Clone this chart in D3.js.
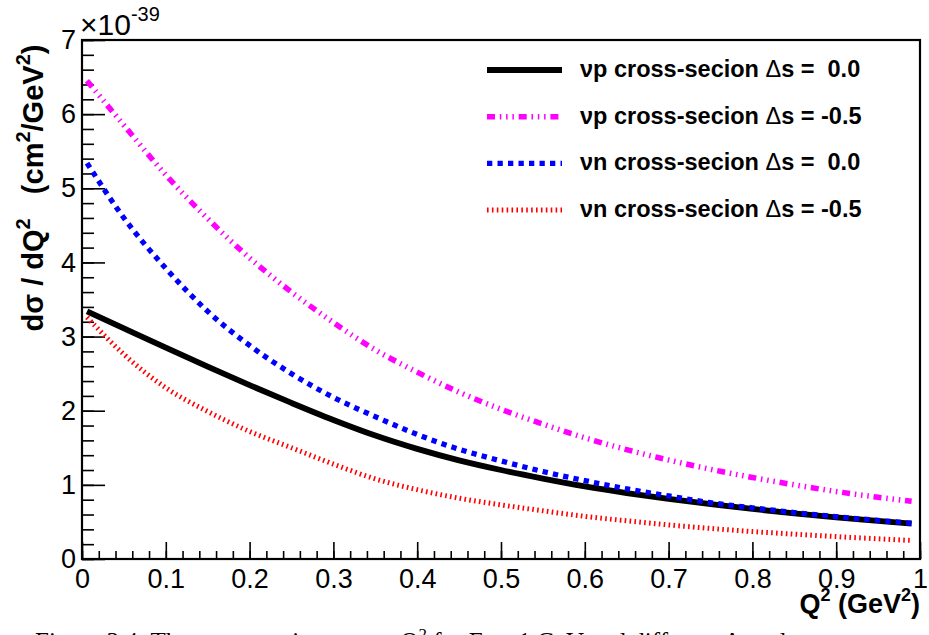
<!DOCTYPE html>
<html>
<head>
<meta charset="utf-8">
<script src="https://cdn.jsdelivr.net/npm/d3@7"></script>
<style>
  html, body { margin: 0; padding: 0; background: #fff; }
  svg { display: block; }
  text { white-space: pre; }
</style>
</head>
<body>
<svg id="chart" width="929" height="635"></svg>
<script>
// Q^2 sampling points (GeV^2)
const q2 = [0.006, 0.05, 0.1, 0.15, 0.2, 0.25, 0.3, 0.35, 0.4, 0.45, 0.5,
            0.55, 0.6, 0.65, 0.7, 0.75, 0.8, 0.85, 0.9, 0.95, 0.99];

// dsigma/dQ^2 in units of 1e-39 cm^2/GeV^2
const nuP_ds0 = [3.34, 3.11, 2.85, 2.595, 2.345, 2.105, 1.875, 1.665, 1.485, 1.33, 1.20,
                 1.085, 0.98, 0.89, 0.81, 0.74, 0.675, 0.615, 0.562, 0.515, 0.478];
const nuP_dsm05 = [6.45, 5.85, 5.18, 4.59, 4.06, 3.60, 3.19, 2.82, 2.52, 2.25, 2.02,
                   1.82, 1.635, 1.475, 1.335, 1.21, 1.10, 1.00, 0.91, 0.833, 0.778];
const nuN_ds0 = [5.34, 4.60, 3.92, 3.34, 2.88, 2.50, 2.18, 1.92, 1.68, 1.48, 1.323,
                 1.18, 1.057, 0.947, 0.85, 0.76, 0.69, 0.627, 0.57, 0.52, 0.482];
const nuN_dsm05 = [3.26, 2.76, 2.31, 1.99, 1.72, 1.50, 1.28, 1.08, 0.935, 0.82, 0.73,
                   0.65, 0.575, 0.515, 0.46, 0.412, 0.37, 0.335, 0.302, 0.272, 0.25];

const seriesNames = ["νp", "νp", "νn", "νn"];
const seriesDs = [" 0.0", "-0.5", " 0.0", "-0.5"];
const seriesColors = ["#000000", "#ff00ff", "#0000ff", "#ff0000"];

const xTickValues = [0, 0.1, 0.2, 0.3, 0.4, 0.5, 0.6, 0.7, 0.8, 0.9, 1];
const yTickValues = [0, 1, 2, 3, 4, 5, 6, 7];

// line styles: width and dash pattern per series
const styles = [
  { w: 5.8, dash: null },
  { w: 5.5, dash: "8,4.8,1.5,4.8,1.5,4.8,1.5,4.8" },
  { w: 5.3, dash: "5.3,5.2" },
  { w: 5,   dash: "1.6,3.3" }
];

const svg = d3.select("#chart");
const padL = 82, padR = 920, padT = 40, padB = 559;

const x = d3.scaleLinear().domain([0, 1]).range([padL, padR]);
const y = d3.scaleLinear().domain([0, 7]).range([padB, padT]);

const tickFont = "'Liberation Sans', Arial, Helvetica, sans-serif";

// minor ticks
svg.append("g")
  .attr("transform", `translate(0,${padB})`)
  .call(d3.axisBottom(x).tickValues(d3.range(0, 1.0001, 0.02)).tickSize(-8).tickFormat(""))
  .call(g => g.select(".domain").remove())
  .call(g => g.selectAll("line").attr("stroke", "#000").attr("stroke-width", 1.6));

svg.append("g")
  .attr("transform", `translate(${padL},0)`)
  .call(d3.axisLeft(y).tickValues(d3.range(0, 7.0001, 0.2)).tickSize(-12).tickFormat(""))
  .call(g => g.select(".domain").remove())
  .call(g => g.selectAll("line").attr("stroke", "#000").attr("stroke-width", 1.6));

// major ticks with labels
svg.append("g")
  .attr("transform", `translate(0,${padB})`)
  .call(d3.axisBottom(x).tickValues(xTickValues).tickSize(-17).tickPadding(10)
        .tickFormat(d => d === 0 || d === 1 ? String(d) : d3.format(".1f")(d)))
  .call(g => g.select(".domain").remove())
  .call(g => g.selectAll("line").attr("stroke", "#000").attr("stroke-width", 1.6))
  .call(g => g.selectAll("text").attr("font-family", tickFont).attr("font-size", 27).attr("fill", "#000"));

svg.append("g")
  .attr("transform", `translate(${padL},0)`)
  .call(d3.axisLeft(y).tickValues(yTickValues).tickSize(-23).tickPadding(6).tickFormat(d3.format("d")))
  .call(g => g.select(".domain").remove())
  .call(g => g.selectAll("line").attr("stroke", "#000").attr("stroke-width", 1.6))
  .call(g => g.selectAll("text").attr("font-family", tickFont).attr("font-size", 27).attr("fill", "#000"));

// curves
const data = [nuP_ds0, nuP_dsm05, nuN_ds0, nuN_dsm05];
const line = d3.line()
  .x((d, i) => x(q2[i]))
  .y(d => y(d))
  .curve(d3.curveMonotoneX);

const plot = svg.append("g");
data.forEach((vals, k) => {
  plot.append("path")
    .datum(vals)
    .attr("d", line)
    .attr("fill", "none")
    .attr("stroke", seriesColors[k])
    .attr("stroke-width", styles[k].w)
    .attr("stroke-dasharray", styles[k].dash)
    .attr("stroke-linecap", "butt")
    .attr("stroke-linejoin", "round");
});

// frame
svg.append("rect")
  .attr("x", padL).attr("y", padT)
  .attr("width", padR - padL).attr("height", padB - padT)
  .attr("fill", "none").attr("stroke", "#000").attr("stroke-width", 2.2);

// exponent label
const expo = svg.append("text")
  .attr("x", 80).attr("y", 35)
  .attr("font-family", tickFont).attr("font-size", 30).attr("fill", "#000");
expo.append("tspan").text("×10");
expo.append("tspan").attr("font-size", 20).attr("dy", -14).text("-39");

// legend
const legY = [70, 116.7, 163.3, 210];
const legend = svg.append("g");
data.forEach((vals, k) => {
  legend.append("line")
    .attr("x1", 487).attr("x2", 562)
    .attr("y1", legY[k]).attr("y2", legY[k])
    .attr("stroke", seriesColors[k])
    .attr("stroke-width", styles[k].w)
    .attr("stroke-dasharray", styles[k].dash);
  const t = legend.append("text")
    .attr("x", 580).attr("y", legY[k] + 7)
    .attr("font-family", tickFont).attr("font-size", 23.5)
    .attr("font-weight", "bold").attr("fill", "#000");
  t.append("tspan").text(seriesNames[k] + " cross-secion ");
  t.append("tspan").attr("font-weight", "normal").text("Δ");
  t.append("tspan").text("s = " + seriesDs[k]);
});

// axis titles
const xt = svg.append("text")
  .attr("x", 920).attr("y", 613)
  .attr("text-anchor", "end")
  .attr("font-family", tickFont).attr("font-size", 27)
  .attr("font-weight", "bold").attr("fill", "#000");
xt.append("tspan").text("Q");
xt.append("tspan").attr("font-size", 18).attr("dy", -12).text("2");
xt.append("tspan").attr("dy", 12).text(" (GeV");
xt.append("tspan").attr("font-size", 18).attr("dy", -12).text("2");
xt.append("tspan").attr("dy", 12).text(")");

const yt = svg.append("text")
  .attr("transform", "translate(43,188) rotate(-90)")
  .attr("text-anchor", "middle")
  .attr("font-family", tickFont).attr("font-size", 29)
  .attr("font-weight", "bold").attr("fill", "#000");
yt.append("tspan").text("dσ / dQ");
yt.append("tspan").attr("font-size", 20).attr("dy", -13).text("2");
yt.append("tspan").attr("dy", 13).text("   (cm");
yt.append("tspan").attr("font-size", 20).attr("dy", -13).text("2");
yt.append("tspan").attr("dy", 13).text("/GeV");
yt.append("tspan").attr("font-size", 20).attr("dy", -13).text("2");
yt.append("tspan").attr("dy", 13).text(")");

// figure caption below the plot
const cap = svg.append("text")
  .attr("x", 35).attr("y", 650)
  .attr("font-family", "'Liberation Serif', 'DejaVu Serif', serif")
  .attr("font-size", 25).attr("fill", "#000");
cap.append("tspan").text("Figure 3.4: The cross section versus Q");
cap.append("tspan").attr("font-size", 17).attr("dy", -10).text("2");
cap.append("tspan").attr("dy", 10).text(" for E");
cap.append("tspan").attr("font-size", 17).attr("dy", 5).text("ν");
cap.append("tspan").attr("dy", -5).text(" = 1 GeV and different Δs values.");
</script>
</body>
</html>
